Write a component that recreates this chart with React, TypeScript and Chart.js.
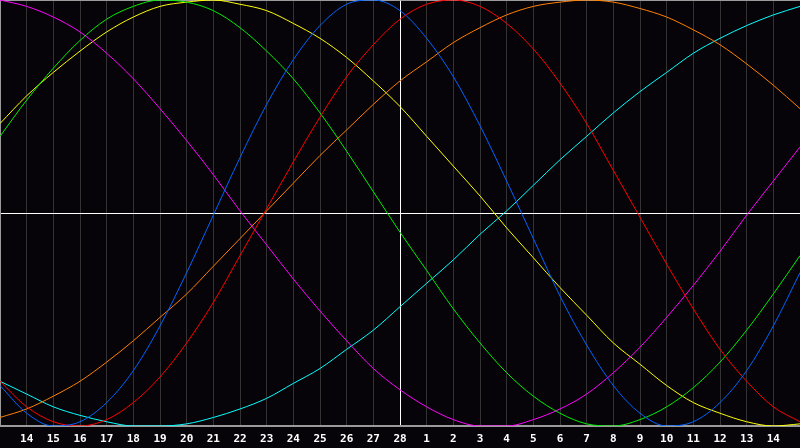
import React, { useEffect, useRef } from "react";
import { Chart, registerables } from "chart.js";

Chart.register(...registerables);

const dayLabels = ["", "14", "15", "16", "17", "18", "19", "20", "21", "22", "23", "24", "25", "26", "27", "28", "1", "2", "3", "4", "5", "6", "7", "8", "9", "10", "11", "12", "13", "14", ""];

const physical = [-81, -94, -100, -98, -89, -74, -53, -28, -1, 26, 51, 72, 88, 98, 100, 95, 82, 64, 41, 15, -12, -39, -62, -81, -94, -100, -98, -89, -74, -53, -28];
const emotional = [-79, -91, -98, -100, -97, -89, -77, -61, -42, -20, 2, 24, 45, 64, 79, 91, 98, 100, 97, 89, 77, 61, 42, 20, -2, -24, -45, -64, -79, -91, -98];
const intellectual = [36, 53, 68, 81, 91, 97, 100, 99, 95, 87, 76, 63, 47, 29, 10, -9, -27, -45, -61, -75, -86, -94, -99, -100, -97, -91, -82, -70, -55, -38, -20];
const intuitive = [100, 97, 92, 85, 75, 63, 49, 34, 18, 1, -15, -31, -46, -60, -73, -83, -91, -97, -100, -100, -97, -92, -85, -75, -63, -49, -34, -18, -1, 15, 31];
const aesthetic = [42, 55, 66, 76, 85, 92, 97, 99, 100, 98, 95, 89, 82, 73, 62, 50, 36, 22, 8, -7, -21, -35, -48, -61, -71, -81, -89, -94, -98, -100, -99];
const awareness = [-96, -92, -86, -79, -70, -60, -49, -38, -25, -12, 1, 14, 27, 39, 51, 62, 71, 80, 87, 93, 97, 99, 100, 99, 96, 92, 86, 79, 70, 60, 49];
const spiritual = [-79, -85, -91, -95, -98, -100, -100, -99, -96, -92, -87, -80, -73, -64, -55, -44, -33, -22, -10, 1, 13, 25, 36, 47, 57, 66, 75, 82, 88, 93, 97];

const seriesList = [
  { name: "Physical", values: physical, color: "#0064ff" },
  { name: "Emotional", values: emotional, color: "#ff0000" },
  { name: "Intellectual", values: intellectual, color: "#00ee00" },
  { name: "Intuitive", values: intuitive, color: "#ff00ff" },
  { name: "Aesthetic", values: aesthetic, color: "#ffff00" },
  { name: "Awareness", values: awareness, color: "#ff8000" },
  { name: "Spiritual", values: spiritual, color: "#00ffff" },
];

const TODAY_INDEX = 15;
const BORDER = "#9a9a9a";

export default function App() {
  const ref = useRef<HTMLCanvasElement | null>(null);

  useEffect(() => {
    document.body.style.margin = "0";
    document.body.style.background = "#060409";
    const canvas = ref.current;
    if (!canvas) return;
    const chart = new Chart(canvas, {
      type: "line",
      data: {
        datasets: seriesList.map((s) => ({
          label: s.name,
          data: s.values.map((v, i) => ({ x: i, y: v })),
          borderColor: s.color,
          borderWidth: 1,
          pointRadius: 0,
          pointHitRadius: 0,
          cubicInterpolationMode: "monotone" as const,
          fill: false,
        })),
      },
      options: {
        responsive: false,
        animation: false,
        layout: { padding: 0, autoPadding: false },
        plugins: { legend: { display: false }, tooltip: { enabled: false } },
        scales: {
          x: {
            type: "linear",
            min: 0,
            max: dayLabels.length - 1,
            border: { display: true, color: BORDER, width: 2 },
            grid: {
              drawTicks: false,
              lineWidth: 1,
              color: (ctx: any) => {
                const v = ctx.tick ? ctx.tick.value : -1;
                if (v === TODAY_INDEX) return "#ffffff";
                if (v === 0) return BORDER;
                if (v === dayLabels.length - 1) return "rgba(0,0,0,0)";
                return "#333333";
              },
            },
            afterFit: (scale: any) => {
              scale.height = 22;
              scale.paddingLeft = 0;
              scale.paddingRight = 0;
            },
            ticks: {
              stepSize: 1,
              autoSkip: false,
              maxRotation: 0,
              padding: 7,
              color: "#ffffff",
              font: { family: "'DejaVu Sans Mono'", size: 11, weight: "bold" },
              callback: (value: any) => dayLabels[Math.round(Number(value))] ?? "",
            },
          },
          y: {
            min: -100,
            max: 100,
            afterFit: (scale: any) => {
              scale.width = 0;
              scale.paddingTop = 0;
              scale.paddingBottom = 0;
            },
            border: { display: true, color: BORDER, width: 1 },
            grid: {
              drawTicks: false,
              color: (ctx: any) => {
                const v = ctx.tick ? ctx.tick.value : -1;
                if (v === 0) return "#ffffff";
                if (v === 100) return BORDER;
                return "rgba(0,0,0,0)";
              },
            },
            ticks: { display: false, stepSize: 100 },
          },
        },
      },
    });
    return () => chart.destroy();
  }, []);

  return (
    <canvas
      ref={ref}
      width={800}
      height={448}
      style={{ display: "block", width: 800, height: 448, background: "#060409" }}
    />
  );
}
